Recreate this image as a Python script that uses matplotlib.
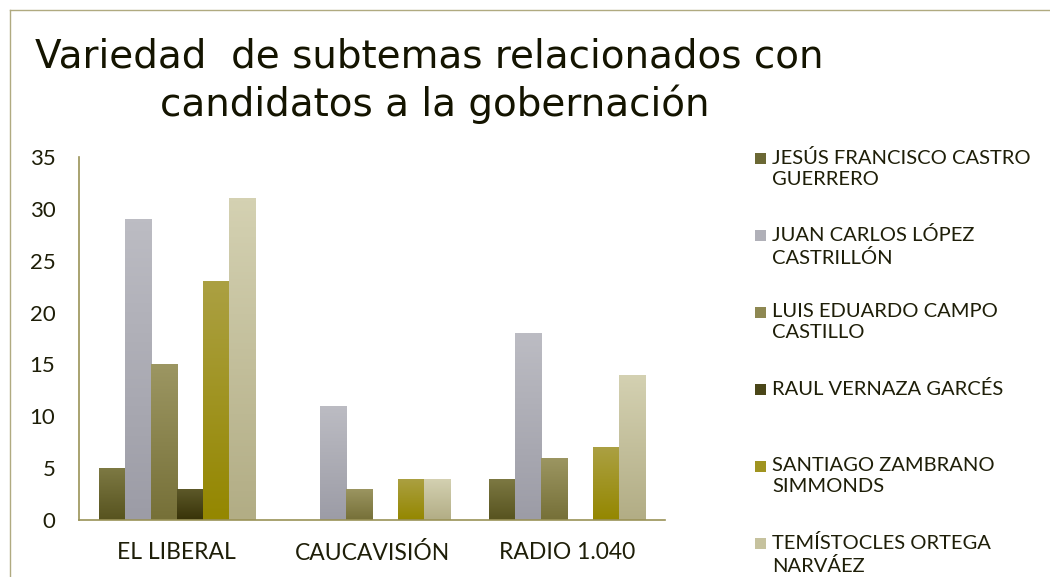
import numpy as np
import matplotlib
matplotlib.use("Agg")
import matplotlib.pyplot as plt
from matplotlib.colors import LinearSegmentedColormap
from matplotlib.patches import Rectangle
from matplotlib.lines import Line2D

medios = ["EL LIBERAL", "CAUCAVISIÓN", "RADIO 1.040"]
candidatos = [
    "JESÚS FRANCISCO CASTRO\nGUERRERO",
    "JUAN CARLOS LÓPEZ\nCASTRILLÓN",
    "LUIS EDUARDO CAMPO\nCASTILLO",
    "RAUL VERNAZA GARCÉS",
    "SANTIAGO ZAMBRANO\nSIMMONDS",
    "TEMÍSTOCLES ORTEGA\nNARVÁEZ",
]
jesus = [5, 0, 4]
juan = [29, 11, 18]
luis = [15, 3, 6]
raul = [3, 0, 0]
santiago = [23, 4, 7]
temistocles = [31, 4, 14]
valores = [jesus, juan, luis, raul, santiago, temistocles]

# (top, bottom) of each bar's gradient
grad = [("#7d7943", "#57531f"), ("#bcbcc3", "#9c9ca6"), ("#9c9662", "#767038"),
        ("#5e5a2a", "#383308"), ("#aba042", "#948700"), ("#d4d1b2", "#b2ad85")]
swatch = ["#6b6834", "#b0b0b8", "#8e8852", "#4a4618", "#a09420", "#c6c29e"]
olive = "#9a9258"
txt = "#1e1e08"
FONT = "Lato"

fig = plt.figure(figsize=(10.5, 5.77), dpi=100)
ax = fig.add_axes([79 / 1050, 1 - 520 / 577, (665 - 79) / 1050, (520 - 157) / 577])

x = np.arange(len(medios))
w = 0.8 / 6
for i, vals in enumerate(valores):
    cmap = LinearSegmentedColormap.from_list("g%d" % i, [grad[i][1], grad[i][0]])
    bars = ax.bar(x + (i - 2.5) * w, vals, w, color="none", edgecolor="none")
    for b, v in zip(bars, vals):
        if v <= 0:
            continue
        x0, y0 = b.get_x(), b.get_y()
        im = ax.imshow(np.linspace(0, 1, 100).reshape(-1, 1), cmap=cmap, origin="lower",
                       extent=[x0, x0 + b.get_width(), y0, y0 + b.get_height()],
                       aspect="auto", zorder=2)
        im.set_clip_path(b)

ax.set_xlim(-0.5, 2.5)
ax.set_ylim(0, 35)
ax.set_yticks(range(0, 36, 5))
ax.set_xticks(x)
ax.set_xticklabels(medios)
for s in ["top", "right"]:
    ax.spines[s].set_visible(False)
for s in ["left", "bottom"]:
    ax.spines[s].set_color(olive)
    ax.spines[s].set_linewidth(1.2)
ax.tick_params(length=0, colors=txt)
ax.tick_params(axis="y", pad=17, labelsize=16)
ax.tick_params(axis="x", pad=16, labelsize=16.5)
for lab in ax.get_xticklabels() + ax.get_yticklabels():
    lab.set_family(FONT)

# title
fig.text(35 / 1050, 1 - 57 / 577, "Variedad  de subtemas relacionados con",
         fontsize=28, family="DejaVu Sans", color="#141400", va="center", ha="left")
fig.text(160 / 1050, 1 - 104 / 577, "candidatos a la gobernación",
         fontsize=28, family="DejaVu Sans", color="#141400", va="center", ha="left")

# legend drawn by hand: one slot of 77 px per candidate
for i, name in enumerate(candidatos):
    ytop = 158 + 77 * i
    fig.patches.append(Rectangle((755 / 1050, 1 - (ytop + 6) / 577), 11 / 1050, 11 / 577,
                                 transform=fig.transFigure, facecolor=swatch[i],
                                 edgecolor="none"))
    fig.text(772 / 1050, 1 - (ytop - 9) / 577, name, fontsize=14.5, family=FONT,
             color=txt, va="top", ha="left", linespacing=1.3)

# outer frame
fig.lines.append(Line2D([10 / 1050, 10 / 1050], [0, 1 - 10 / 577], transform=fig.transFigure,
                        color="#b0aa80", lw=1))
fig.lines.append(Line2D([10 / 1050, 1], [1 - 10 / 577, 1 - 10 / 577], transform=fig.transFigure,
                        color="#b0aa80", lw=1))

fig.savefig("out.png", dpi=100)
